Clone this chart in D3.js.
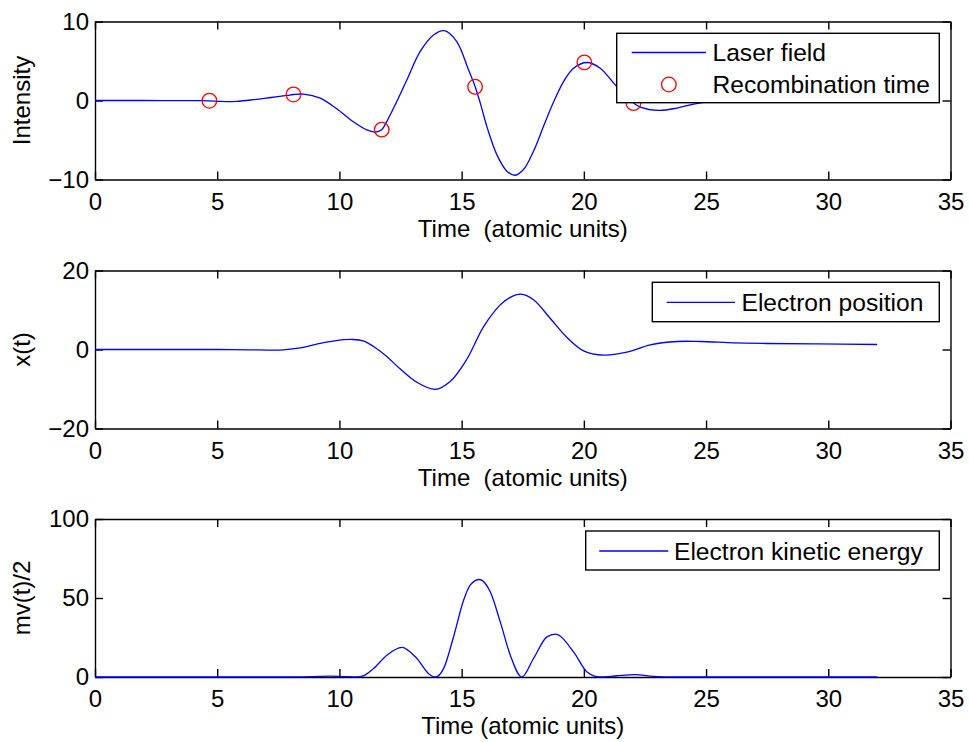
<!DOCTYPE html>
<html>
<head>
<meta charset="utf-8">
<script src="https://d3js.org/d3.v7.min.js"></script>
<style>
  body { margin: 0; background: #fff; }
  text { font-family: "Liberation Sans", Arial, sans-serif; }
</style>
</head>
<body>
<div id="my_dataviz"></div>
<script>

// data
var timeTicks = [0, 5, 10, 15, 20, 25, 30, 35];

var laserT = [0, 2, 4, 4.68, 5.12, 5.8, 6.48, 7.2, 7.85, 8.12, 8.53, 9.21, 9.89, 10.57, 11.12, 11.46, 11.73, 11.94, 12.35, 12.76, 13.3, 13.85, 14.29, 14.8, 15.28, 15.55, 15.76, 16.03, 16.44, 16.85, 17.19, 17.53, 17.94, 18.35, 18.76, 19.17, 19.58, 20.13, 20.67, 21.22, 21.6, 22.03, 22.31, 23.06, 23.81, 24.49, 25.2, 26, 27, 28, 30, 32];
var laserField = [0, 0, -0.02, -0.04, -0.12, -0.1, 0.1, 0.38, 0.64, 0.76, 0.81, 0.3, -1.04, -2.7, -3.73, -3.99, -3.69, -2.64, -0.1, 2.62, 6.19, 8.3, 8.84, 7.46, 3.88, 1.78, -0.3, -3.27, -6.85, -8.95, -9.46, -8.74, -6.42, -3.27, -0.2, 2.4, 4.09, 4.81, 4.09, 2.2, 0.9, -0.32, -0.83, -1.25, -0.96, -0.45, -0.1, 0.1, 0.1, 0.03, 0, 0];

var recombT = [4.68, 8.12, 11.73, 15.55, 20.02, 22.03];
var recombField = [-0.03, 0.76, -3.69, 1.74, 4.83, -0.32];

var posT = [0, 4, 5, 6.34, 7.2, 7.71, 8.4, 9.07, 9.8, 10.55, 11.0, 11.53, 11.94, 12.48, 13.17, 13.92, 14.53, 15.2, 15.9, 16.58, 16.99, 17.42, 17.94, 18.62, 19.31, 19.99, 20.81, 21.76, 22.72, 23.81, 24.76, 26.13, 27.49, 29.54, 32.0];
var posX = [0, 0, 0, -0.08, -0.15, -0.08, 0.4, 1.36, 2.2, 2.53, 2.1, 0.2, -1.8, -4.9, -8.3, -10.1, -8.1, -2.6, 5.8, 11.3, 13.2, 14.0, 12.6, 7.9, 3.05, -0.33, -1.43, -0.67, 1.19, 2.03, 2.03, 1.7, 1.52, 1.43, 1.27];

var keT = [0, 8, 8.8, 9.6, 10.2, 10.71, 11.0, 11.39, 11.94, 12.55, 13.17, 13.65, 13.92, 14.26, 14.67, 15.08, 15.35, 15.73, 16.17, 16.58, 16.99, 17.46, 17.94, 18.49, 18.83, 19.58, 20.13, 20.67, 21.35, 22.1, 22.85, 23.67, 32.0];
var keE = [0, 0, 0.2, 0.6, 0.3, 0.05, 0.9, 5.3, 13.8, 18.8, 11.7, 2.1, 0, 5.3, 25.5, 48.6, 58.1, 61.7, 53.9, 34.9, 13.8, 0, 11.7, 25.4, 27.1, 15.9, 3.2, 0, 0.8, 1.5, 0.4, 0, 0];

var W = 969, H = 742;
var fontSize = 24;

var svg = d3.select("#my_dataviz")
    .append("svg")
    .attr("width", W)
    .attr("height", H)
    .style("background-color", "#fff");

var x = d3.scaleLinear().domain([0, 35]).range([95, 950.5]);

function toPoints(ts, vs) {
    return ts.map(function (t, i) { return { t: t, v: vs[i] }; });
}

function drawPanel(top, yDomain, yTicks, yLabel, xLabel) {
    var height = 158;
    var y = d3.scaleLinear().domain(yDomain).range([top + height, top]);
    var g = svg.append("g");

    // four sides with inward ticks
    g.append("g")
        .attr("transform", "translate(0," + (top + height) + ")")
        .call(d3.axisBottom(x).tickValues(timeTicks).tickSizeInner(-8).tickSizeOuter(0).tickPadding(13));
    g.append("g")
        .attr("transform", "translate(0," + top + ")")
        .call(d3.axisTop(x).tickValues(timeTicks).tickSizeInner(-8).tickSizeOuter(0).tickFormat(""));
    g.append("g")
        .attr("transform", "translate(" + x.range()[0] + ",0)")
        .call(d3.axisLeft(y).tickValues(yTicks).tickSizeInner(-8).tickSizeOuter(0).tickPadding(6)
            .tickFormat(function (d) { return d < 0 ? "\u2212" + Math.abs(d) : d; }));
    g.append("g")
        .attr("transform", "translate(" + x.range()[1] + ",0)")
        .call(d3.axisRight(y).tickValues(yTicks).tickSizeInner(-8).tickSizeOuter(0).tickFormat(""));

    g.selectAll(".domain, .tick line")
        .attr("stroke", "#000")
        .attr("stroke-width", 1.4);
    g.selectAll(".tick text")
        .attr("fill", "#000")
        .style("font-size", fontSize + "px")
        .style("font-family", "'Liberation Sans', Arial, sans-serif");

    g.append("text")
        .attr("x", (x.range()[0] + x.range()[1]) / 2)
        .attr("y", top + height + 57)
        .attr("text-anchor", "middle")
        .style("white-space", "pre")
        .style("font-size", fontSize + "px")
        .text(xLabel);

    g.append("text")
        .attr("transform", "translate(30," + (top + height / 2) + ") rotate(-90)")
        .attr("text-anchor", "middle")
        .style("font-size", fontSize + "px")
        .text(yLabel);

    return y;
}

function drawLegend(x0, x1, y0, y1, rows) {
    var lg = svg.append("g");
    lg.append("rect")
        .attr("x", x0).attr("y", y0)
        .attr("width", x1 - x0).attr("height", y1 - y0)
        .attr("fill", "#fff")
        .attr("stroke", "#000")
        .attr("stroke-width", 1.4);
    rows.forEach(function (r) {
        if (r.kind == "line") {
            lg.append("line")
                .attr("x1", r.sx0).attr("x2", r.sx1)
                .attr("y1", r.y).attr("y2", r.y)
                .attr("stroke", "#0000ff")
                .attr("stroke-width", 1.3);
        } else {
            lg.append("circle")
                .attr("cx", (r.sx0 + r.sx1) / 2).attr("cy", r.y)
                .attr("r", 7.3)
                .attr("fill", "none")
                .attr("stroke", "#ff0000")
                .attr("stroke-width", 1.3);
        }
        lg.append("text")
            .attr("x", r.tx)
            .attr("y", r.y)
            .attr("dy", "0.36em")
            .style("font-size", "24.6px")
            .text(r.label);
    });
}

var line = function (y, curve) {
    return d3.line()
        .x(function (d) { return x(d.t); })
        .y(function (d) { return y(d.v); })
        .curve(curve);
};

// panel 1: laser field
var y1 = drawPanel(21.5, [-10, 10], [-10, 0, 10], "Intensity", "Time  (atomic units)");
svg.append("path")
    .datum(toPoints(laserT, laserField))
    .attr("fill", "none")
    .attr("stroke", "#0000ff")
    .attr("stroke-width", 1.3)
    .attr("d", line(y1, d3.curveCatmullRom));
svg.selectAll(".recomb")
    .data(toPoints(recombT, recombField))
    .enter().append("circle")
    .attr("class", "recomb")
    .attr("cx", function (d) { return x(d.t); })
    .attr("cy", function (d) { return y1(d.v); })
    .attr("r", 7.3)
    .attr("fill", "none")
    .attr("stroke", "#ff0000")
    .attr("stroke-width", 1.3);
drawLegend(616.7, 939.3, 33.3, 102.7, [
    { kind: "line", sx0: 631.7, sx1: 706, y: 52.5, tx: 712.5, label: "Laser field" },
    { kind: "marker", sx0: 631.7, sx1: 706, y: 84.5, tx: 712.5, label: "Recombination time" }
]);

// panel 2: electron position
var y2 = drawPanel(270.5, [-20, 20], [-20, 0, 20], "x(t)", "Time  (atomic units)");
svg.append("path")
    .datum(toPoints(posT, posX))
    .attr("fill", "none")
    .attr("stroke", "#0000ff")
    .attr("stroke-width", 1.3)
    .attr("d", line(y2, d3.curveCatmullRom));
drawLegend(652.3, 939.3, 282.3, 321.7, [
    { kind: "line", sx0: 666.7, sx1: 735, y: 302.3, tx: 741.5, label: "Electron position" }
]);

// panel 3: kinetic energy
var y3 = drawPanel(519, [0, 100], [0, 50, 100], "mv(t)/2", "Time (atomic units)");
svg.append("path")
    .datum(toPoints(keT, keE))
    .attr("fill", "none")
    .attr("stroke", "#0000ff")
    .attr("stroke-width", 1.3)
    .attr("d", line(y3, d3.curveMonotoneX));
drawLegend(585.7, 939.3, 531, 570, [
    { kind: "line", sx0: 599.3, sx1: 668.3, y: 551, tx: 674, label: "Electron kinetic energy" }
]);

</script>
</body>
</html>
